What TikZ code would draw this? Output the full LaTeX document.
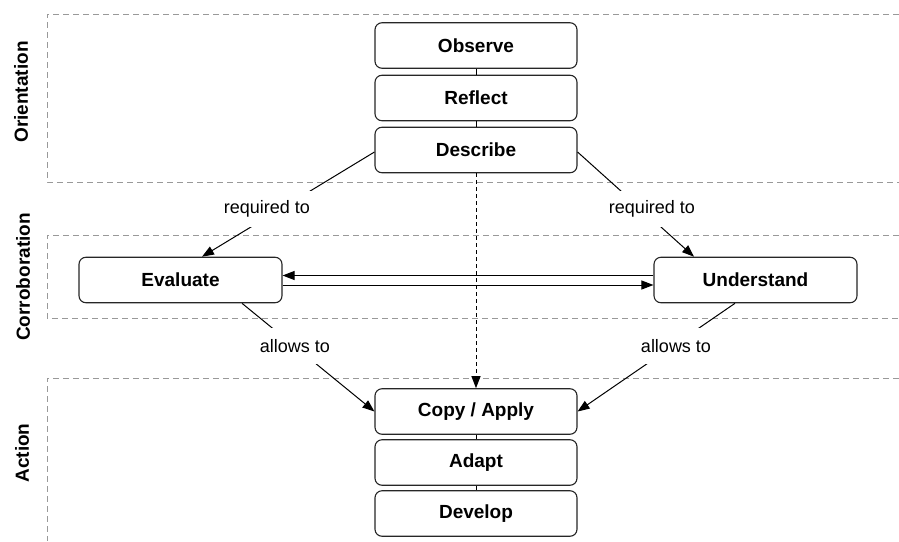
\documentclass[tikz,border=0pt]{standalone}
\usepackage{fontspec}
\setmainfont{Liberation Sans}
\usetikzlibrary{arrows.meta,calc}
\begin{document}
\begin{tikzpicture}[x=1pt,y=-1pt,
  box/.style={draw=black!85, line width=1.1pt, rounded corners=7pt, fill=white,
    minimum width=202pt, minimum height=45.5pt, inner sep=0pt,
    font=\fontsize{19}{22}\selectfont\bfseries},
  lane/.style={draw=black!40, line width=1pt, dash pattern=on 6pt off 4pt},
  lanelabel/.style={rotate=90, inner sep=0pt, font=\fontsize{19}{22}\selectfont\bfseries},
  edgelabel/.style={fill=white, inner xsep=3pt, inner ysep=0pt, minimum height=36pt,
    font=\fontsize{18}{21}\selectfont},
  conn/.style={draw=black, line width=1pt},
  arr/.style={conn, -{Triangle[length=12pt,width=9pt]}},
  dashconn/.style={arr, dash pattern=on 4pt off 3pt},
]
\useasboundingbox (0,0) rectangle (899,541);

% swimlanes
\draw[lane] (899,14) -- (47,14) -- (47,182) -- (899,182);
\draw[lane] (899,235) -- (47,235) -- (47,318) -- (899,318);
\draw[lane] (899,378) -- (47,378) -- (47,541);

\node[lanelabel] (lorient) at (21,92) {Orientation};
\node[lanelabel] (lcorr) at (23,277) {Corroboration};
\node[lanelabel] (laction) at (22,453) {Action};

% boxes
\node[box] (observe) at (476,45.5) {Observe};
\node[box] (reflect) at (476,98) {Reflect};
\node[box] (describe) at (476,150) {Describe};
\node[box, minimum width=203pt] (evaluate) at (180.5,280) {Evaluate};
\node[box, minimum width=203pt] (understand) at (755.5,280) {Understand};
\node[box] (copy) at (476,411.5) {Copy / Apply};
\node[box] (adapt) at (476,462.5) {Adapt};
\node[box] (develop) at (476,513.5) {Develop};

% stack connectors
\draw[conn] (observe.south) -- (reflect.north);
\draw[conn] (reflect.south) -- (describe.north);
\draw[conn] (copy.south) -- (adapt.north);
\draw[conn] (adapt.south) -- (develop.north);

% dashed arrow
\draw[dashconn] (describe.south) -- (copy.north);

% horizontal arrows
\draw[arr] ($(understand.west)+(0,-4.5)$) -- ($(evaluate.east)+(0,-4.5)$);
\draw[arr] ($(evaluate.east)+(0,5)$) -- ($(understand.west)+(0,5)$);

% diagonal arrows
\coordinate (evalin) at ($(evaluate.north)+(21.5,0)$);
\coordinate (undin) at ($(understand.north)+(-61.5,0)$);
\coordinate (evalout) at ($(evaluate.south)+(61.5,0)$);
\coordinate (undout) at ($(understand.south)+(-20.5,0)$);
\draw[arr] ($(describe.west)+(0,2)$) -- (evalin);
\draw[arr] ($(describe.east)+(0,2)$) -- (undin);
\draw[arr] (evalout) -- (copy.west);
\draw[arr] (undout) -- (copy.east);

% edge labels
\node[edgelabel] (req1) at (267,209) {required to};
\node[edgelabel] (req2) at (652,209) {required to};
\node[edgelabel] (all1) at (295,346) {allows to};
\node[edgelabel] (all2) at (676,346) {allows to};
\end{tikzpicture}
\end{document}
